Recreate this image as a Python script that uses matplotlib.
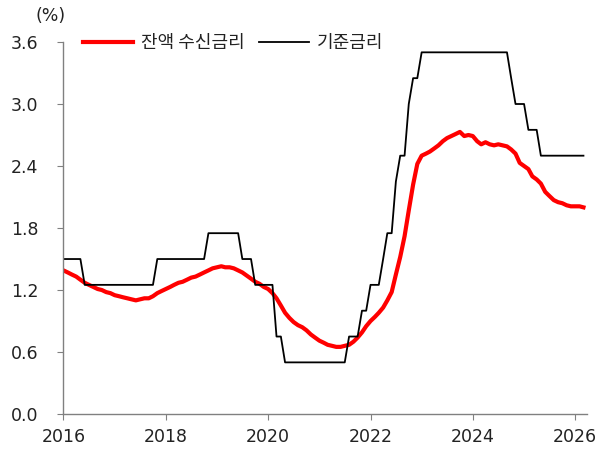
import matplotlib
matplotlib.use("Agg")
import matplotlib.pyplot as plt
import matplotlib.dates as mdates
import pandas as pd

# monthly, Jan 2016 - Mar 2026
months = pd.date_range("2016-01-01", "2026-03-01", freq="MS")

# 잔액 수신금리 (%)
deposit_rate = [
    1.39, 1.37, 1.35, 1.33, 1.30, 1.27, 1.25, 1.23, 1.21, 1.20, 1.18, 1.17,  # 2016
    1.15, 1.14, 1.13, 1.12, 1.11, 1.10, 1.11, 1.12, 1.12, 1.14, 1.17, 1.19,  # 2017
    1.21, 1.23, 1.25, 1.27, 1.28, 1.30, 1.32, 1.33, 1.35, 1.37, 1.39, 1.41,  # 2018
    1.42, 1.43, 1.42, 1.42, 1.41, 1.39, 1.37, 1.34, 1.31, 1.28, 1.26, 1.23,  # 2019
    1.21, 1.17, 1.12, 1.05, 0.98, 0.93, 0.89, 0.86, 0.84, 0.81, 0.77, 0.74,  # 2020
    0.71, 0.69, 0.67, 0.66, 0.65, 0.65, 0.66, 0.67, 0.70, 0.74, 0.79, 0.85,  # 2021
    0.90, 0.94, 0.98, 1.03, 1.10, 1.18, 1.35, 1.52, 1.72, 1.97, 2.22, 2.42,  # 2022
    2.50, 2.52, 2.54, 2.57, 2.60, 2.64, 2.67, 2.69, 2.71, 2.73, 2.69, 2.70,  # 2023
    2.69, 2.64, 2.61, 2.63, 2.61, 2.60, 2.61, 2.60, 2.59, 2.56, 2.52, 2.43,  # 2024
    2.40, 2.37, 2.30, 2.27, 2.23, 2.15, 2.11, 2.07, 2.05, 2.04, 2.02, 2.01,  # 2025
    2.01, 2.01, 2.00,                                                      # 2026
]

# 기준금리 (%)
base_rate = (
    [1.5] * 5 + [1.25] * 7 +                    # 2016
    [1.25] * 10 + [1.5] * 2 +                   # 2017
    [1.5] * 10 + [1.75] * 2 +                   # 2018
    [1.75] * 6 + [1.5] * 3 + [1.25] * 3 +       # 2019
    [1.25] * 2 + [0.75] * 2 + [0.5] * 8 +       # 2020
    [0.5] * 7 + [0.75] * 3 + [1.0] * 2 +        # 2021
    [1.25] * 3 + [1.5] + [1.75] * 2 + [2.25] + [2.5] * 2 + [3.0] + [3.25] * 2 +  # 2022
    [3.5] * 12 +                                # 2023
    [3.5] * 9 + [3.25] + [3.0] * 2 +            # 2024
    [3.0] + [2.75] * 3 + [2.5] * 8 +            # 2025
    [2.5] * 3                                   # 2026
)

yticks = [0.0, 0.6, 1.2, 1.8, 2.4, 3.0, 3.6]

plt.rcParams['font.family'] = ['DejaVu Sans', 'Noto Sans CJK KR']
txt_col = '#222222'
axis_col = '#808080'

fig = plt.figure(figsize=(6.10, 4.54), dpi=100)
ax = fig.add_axes([0.104, 0.088, 0.858, 0.8195])

ax.plot(months, deposit_rate, color='#ff0000', lw=3.0, label='잔액 수신금리', solid_joinstyle='round')
ax.plot(months, base_rate, color='black', lw=1.3, label='기준금리')

ax.set_ylim(0, 3.6)
ax.set_yticks(yticks)
ax.set_yticklabels([f"{v:.1f}" for v in yticks])
ax.set_xlim(pd.Timestamp("2016-01-01"), pd.Timestamp("2026-03-25"))
ax.xaxis.set_major_locator(mdates.YearLocator(2))
ax.xaxis.set_major_formatter(mdates.DateFormatter('%Y'))

for s in ['top', 'right']:
    ax.spines[s].set_visible(False)
for s in ['left', 'bottom']:
    ax.spines[s].set_color(axis_col)
    ax.spines[s].set_linewidth(1.0)
ax.tick_params(axis='y', direction='out', length=4, color=axis_col, labelsize=12.5, labelcolor=txt_col, pad=14)
ax.tick_params(axis='x', direction='out', length=4, color=axis_col, labelsize=12.5, labelcolor=txt_col, pad=6)

leg = ax.legend(loc='center left', bbox_to_anchor=(0.037, 0.997), ncol=2, frameon=False,
                handlelength=2.8, handletextpad=0.4, columnspacing=0.8,
                borderpad=0, borderaxespad=0, prop={'family': ['Noto Sans CJK KR'], 'size': 13})
for t in leg.get_texts():
    t.set_color(txt_col)

fig.text(51 / 610, 1 - 16 / 454, '(%)', ha='center', va='center', fontsize=12.5, color=txt_col)

fig.savefig('out.png', dpi=100)
